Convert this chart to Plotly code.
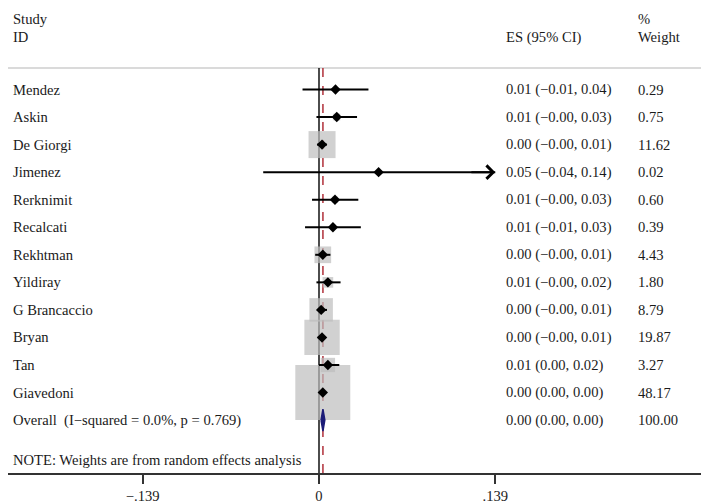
import math
import plotly.graph_objects as go

# ---------------- data ----------------
studies = ["Mendez", "Askin", "De Giorgi", "Jimenez", "Rerknimit", "Recalcati",
           "Rekhtman", "Yildiray", "G Brancaccio", "Bryan", "Tan", "Giavedoni"]
es = [0.013, 0.014, 0.0024, 0.047, 0.0126, 0.011, 0.003, 0.007, 0.0017, 0.0024, 0.007, 0.003]
ci_lo = [-0.013, -0.002, -0.0016, -0.044, -0.0055, -0.011, -0.003, -0.002, -0.0015, -0.001, 0.0, 0.0015]
ci_hi = [0.039, 0.030, 0.0063, 0.14, 0.031, 0.033, 0.009, 0.017, 0.0063, 0.0055, 0.016, 0.0045]
weights = [0.29, 0.75, 11.62, 0.02, 0.60, 0.39, 4.43, 1.80, 8.79, 19.87, 3.27, 48.17]
es_text = ["0.01 (\u22120.01, 0.04)", "0.01 (\u22120.00, 0.03)", "0.00 (\u22120.00, 0.01)",
           "0.05 (\u22120.04, 0.14)", "0.01 (\u22120.00, 0.03)", "0.01 (\u22120.01, 0.03)",
           "0.00 (\u22120.00, 0.01)", "0.01 (\u22120.00, 0.02)", "0.00 (\u22120.00, 0.01)",
           "0.00 (\u22120.00, 0.01)", "0.01 (0.00, 0.02)", "0.00 (0.00, 0.00)"]
weight_text = ["0.29", "0.75", "11.62", "0.02", "0.60", "0.39", "4.43", "1.80",
               "8.79", "19.87", "3.27", "48.17"]

overall_label = "Overall  (I\u2212squared = 0.0%, p = 0.769)"
overall_es, overall_lo, overall_hi = 0.0031, 0.0016, 0.0046
overall_es_text = "0.00 (0.00, 0.00)"
overall_weight_text = "100.00"
note_text = "NOTE: Weights are from random effects analysis"

tick_vals = [-0.139, 0, 0.139]
tick_text = ["\u2212.139", "0", ".139"]

# ---------------- layout helpers ----------------
OFF = 8                      # default page body margin
W, H = 709 - OFF, 503 - OFF  # figure size so that it ends at the window edge
FONT = "Liberation Serif, Times New Roman, serif"
FS = 14.6
TXT = "#1a1a1a"
PX_PER_UNIT = 1268.0
ZERO_PX = 319               # page x of value 0
AXIS_PX = 473               # page y of x-axis line
ROW0_PX, ROW_H = 89.5, 27.55

x_min = -(ZERO_PX - OFF) / PX_PER_UNIT
x_max = (709 - ZERO_PX) / PX_PER_UNIT
clip = 0.139


def row_of(page_y):
    return (page_y - ROW0_PX) / ROW_H


y_top, y_bot = row_of(OFF), row_of(AXIS_PX)
rows = list(range(len(studies)))
overall_row = len(studies)
note_row = row_of(460)
sep_row = row_of(68)

fig = go.Figure()

# boxes (area proportional to weight)
wmax = max(weights)
fig.add_trace(go.Scatter(
    x=es, y=rows, mode="markers", hoverinfo="skip", showlegend=False,
    marker=dict(symbol="square", color="#bebebe",
                size=[55 * math.sqrt(w / wmax) for w in weights],
                line=dict(width=0))))

# CI lines
lx, ly = [], []
for r, lo, hi in zip(rows, ci_lo, ci_hi):
    lx += [lo, min(hi, clip), None]
    ly += [r, r, None]
fig.add_trace(go.Scatter(x=lx, y=ly, mode="lines", hoverinfo="skip", showlegend=False,
                         line=dict(color="black", width=2)))

# point estimates
fig.add_trace(go.Scatter(x=es, y=rows, mode="markers", hoverinfo="skip", showlegend=False,
                         marker=dict(symbol="diamond", color="black", size=8)))

# overall diamond
fig.add_trace(go.Scatter(
    x=[overall_lo, overall_es, overall_hi, overall_es, overall_lo],
    y=[overall_row, overall_row - 0.4, overall_row, overall_row + 0.4, overall_row],
    mode="lines", fill="toself", fillcolor="#1c1c78", hoverinfo="skip", showlegend=False,
    line=dict(color="#1c1c78", width=1.5)))

# arrows for clipped CIs
for r, hi in zip(rows, ci_hi):
    if hi > clip:
        fig.add_annotation(x=clip, y=r, ax=clip - 0.02, ay=r, xref="x", yref="y",
                           axref="x", ayref="y", text="", showarrow=True,
                           arrowhead=4, arrowsize=1.3, arrowwidth=2, arrowcolor="black",
                           standoff=0)

shapes = [
    # header separator
    dict(type="line", xref="paper", yref="y", x0=0, x1=(706 - OFF) / W, y0=sep_row, y1=sep_row,
         line=dict(color="#b5b5b5", width=1.2), layer="below"),
    # null line
    dict(type="line", xref="x", yref="y", x0=0, x1=0, y0=sep_row, y1=y_bot,
         line=dict(color="black", width=1.4), layer="below"),
    # overall effect line
    dict(type="line", xref="x", yref="y", x0=overall_es, x1=overall_es, y0=sep_row, y1=y_bot,
         line=dict(color="#b0303a", width=1.5, dash="dash"), layer="below"),
]


def txt(page_x, y, s):
    fig.add_annotation(x=(page_x - OFF - 2) / W, y=y, xref="paper", yref="y", text=s,
                       showarrow=False, xanchor="left", yanchor="middle",
                       font=dict(family=FONT, size=FS, color=TXT))


# headers
head1 = row_of(19)
head2 = row_of(37)
txt(13, head1, "Study")
txt(13, head2, "ID")
txt(506, head2, "ES (95% CI)")
txt(638, head1, "%")
txt(638, head2, "Weight")

for r, s, e, w in zip(rows, studies, es_text, weight_text):
    txt(13, r, s)
    txt(506, r, e)
    txt(638, r, w)

txt(13, overall_row, overall_label)
txt(506, overall_row, overall_es_text)
txt(638, overall_row, overall_weight_text)
txt(13, note_row, note_text)

fig.update_layout(
    width=W, height=H,
    margin=dict(l=0, r=0, t=0, b=H - (AXIS_PX - OFF)),
    paper_bgcolor="white", plot_bgcolor="white",
    shapes=shapes,
    showlegend=False,
    xaxis=dict(range=[x_min, x_max], showgrid=False, zeroline=False,
               showline=True, linecolor="#333333", linewidth=1.5,
               ticks="outside", ticklen=9, tickwidth=2, tickcolor="#333333",
               tickvals=tick_vals, ticktext=tick_text,
               tickfont=dict(family=FONT, size=FS, color=TXT), fixedrange=True),
    yaxis=dict(range=[y_bot, y_top], visible=False, fixedrange=True),
)

fig.write_html("out.html")
